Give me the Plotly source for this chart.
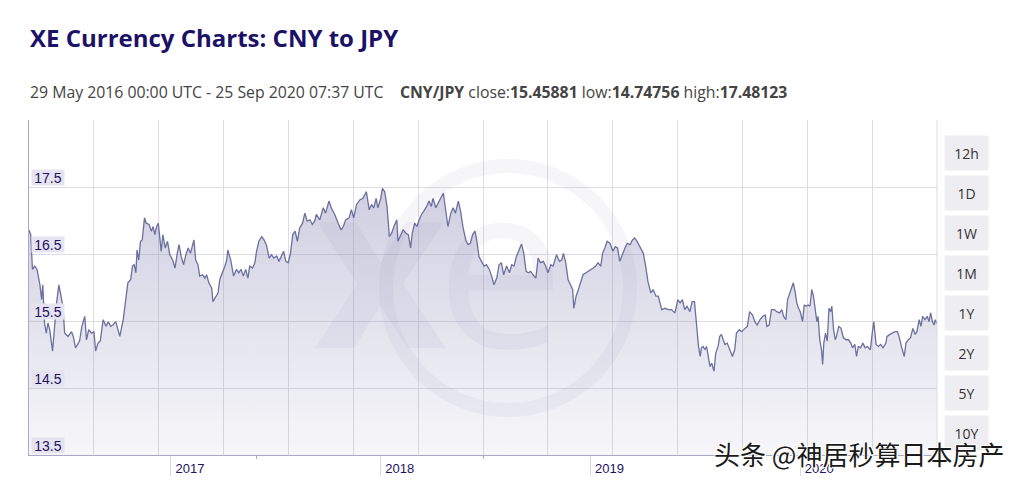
import pandas as pd
import plotly.graph_objects as go

# ---------------- data ----------------
START = "2016-05-29"
END = "2020-09-25"

day_offsets = [
    0, 3, 6, 10, 14, 19, 22, 24, 27, 30, 33, 36, 41, 45, 48, 52, 56, 59, 62, 68,
    74, 77, 81, 85, 88, 92, 97, 100, 104, 109, 113, 116, 120, 124, 129, 134, 138, 142, 146, 151,
    155, 158, 164, 167, 172, 177, 180, 183, 186, 188, 191, 194, 197, 201, 204, 209, 213, 216, 219, 222,
    225, 228, 230, 233, 237, 241, 245, 250, 254, 258, 261, 265, 269, 273, 277, 281, 284, 287, 290, 294,
    297, 302, 306, 309, 313, 318, 320, 325, 329, 332, 337, 341, 344, 346, 351, 353, 356, 361, 365, 369,
    373, 377, 381, 384, 389, 393, 396, 400, 405, 409, 413, 418, 422, 426, 431, 435, 439, 443, 447, 451,
    455, 459, 463, 467, 471, 476, 480, 484, 489, 493, 497, 500, 506,
    512, 516, 522, 526, 532, 538, 543, 547, 551, 557, 561, 565, 570, 576, 581, 587, 592, 596, 600, 604,
    607, 612, 615, 619, 623, 627, 631, 635, 640, 642, 646, 651, 656, 660, 664, 667, 671, 675, 679, 683,
    687, 692, 696, 700, 703, 708, 712, 716, 721, 725, 729, 734, 738, 742, 747, 751, 755, 760, 764, 768,
    772, 776, 779, 783, 788, 792, 796, 801, 805, 809, 814, 818, 822, 826, 831, 836, 840, 844, 848, 853,
    857, 861, 865, 869, 873, 877, 882, 886, 890, 895, 899, 903, 908, 912, 918, 923, 927, 930, 934, 938,
    942, 946, 948, 952, 956, 960, 964, 969, 973, 977, 982, 986, 990, 995, 998, 1002, 1006, 1011, 1016, 1020,
    1024, 1028, 1033, 1037, 1041, 1046, 1050, 1054, 1058, 1063, 1069, 1073, 1077, 1082, 1086, 1091, 1095, 1101, 1107, 1112,
    1118, 1124, 1129, 1133, 1137, 1141, 1145, 1150, 1154, 1158, 1162, 1165, 1168, 1170, 1173, 1176, 1179, 1182, 1185, 1188,
    1192, 1195, 1199, 1202, 1205, 1208, 1211, 1215, 1220, 1224, 1228, 1231, 1236, 1240, 1246, 1250, 1254, 1259, 1263, 1267,
    1272, 1277, 1281, 1284, 1288, 1292, 1297, 1301, 1306, 1310, 1313, 1317, 1320, 1324, 1327, 1330, 1333, 1336, 1339, 1342,
    1346, 1349, 1352, 1356, 1359, 1362, 1365, 1368, 1371, 1373, 1376, 1379, 1381, 1383, 1386, 1389, 1392, 1395, 1397, 1400,
    1403, 1405, 1409, 1413, 1417, 1422, 1426, 1430, 1433, 1437, 1440, 1443, 1447, 1451, 1455, 1459, 1464, 1468, 1470, 1474,
    1478, 1482, 1486, 1491, 1493, 1498, 1503, 1507, 1511, 1514, 1518, 1523, 1526, 1530, 1534, 1538, 1542, 1545, 1549, 1552,
    1555, 1559, 1563, 1566, 1569, 1572, 1575, 1577, 1580,
]

cny_jpy = [
    16.86, 16.79, 16.27, 16.32, 16.27, 16.04, 15.82, 16.04, 15.47, 15.32, 15.47, 15.37, 15.05, 15.47, 15.77, 16.04, 15.87, 15.72, 15.32, 15.27,
    15.34, 15.27, 15.10, 15.15, 15.20, 15.42, 15.57, 15.22, 15.37, 15.32, 15.34, 15.05, 15.17, 15.20, 15.52, 15.42, 15.49, 15.42, 15.44, 15.49,
    15.37, 15.27, 15.52, 15.72, 16.07, 16.12, 16.32, 16.34, 16.22, 16.56, 16.41, 16.69, 16.71, 17.04, 16.96, 16.94, 16.84, 16.91, 16.79, 16.91,
    16.96, 16.71, 16.54, 16.79, 16.59, 16.69, 16.49, 16.41, 16.29, 16.51, 16.64, 16.46, 16.34, 16.49, 16.59, 16.51, 16.61, 16.71, 16.41, 16.34,
    16.17, 16.19, 16.14, 16.19, 16.07, 15.99, 15.79, 15.87, 15.92, 16.12, 16.22, 16.32, 16.41, 16.56, 16.41, 16.32, 16.17, 16.27, 16.22, 16.27,
    16.17, 16.27, 16.14, 16.32, 16.29, 16.37, 16.54, 16.69, 16.76, 16.71, 16.64, 16.44, 16.49, 16.44, 16.47, 16.39, 16.46, 16.54, 16.39, 16.37,
    16.51, 16.79, 16.84, 16.69, 16.89, 16.96, 17.11, 16.99, 17.01, 16.94, 16.99, 17.09, 17.01,
    17.19, 17.11, 17.29, 17.19, 17.09, 16.96, 16.86, 16.91, 17.01, 17.04, 17.16, 17.04, 17.24, 17.31, 17.33, 17.43, 17.16, 17.24, 17.19, 17.33,
    17.19, 17.33, 17.48, 17.43, 17.21, 16.76, 16.81, 16.91, 17.01, 16.69, 16.76, 16.86, 16.81, 16.79, 16.59, 16.81, 16.96, 16.91, 17.01, 17.09,
    17.14, 17.21, 17.29, 17.21, 17.33, 17.19, 17.26, 17.33, 17.41, 17.16, 16.91, 17.11, 17.19, 17.11, 17.29, 17.14, 16.91, 16.71, 16.64, 16.66,
    16.79, 16.84, 16.71, 16.46, 16.37, 16.32, 16.34, 16.27, 16.17, 16.04, 16.14, 16.34, 16.37, 16.19, 16.32, 16.22, 16.34, 16.32, 16.46, 16.56,
    16.65, 16.51, 16.24, 16.22, 16.24, 16.19, 16.14, 16.44, 16.37, 16.39, 16.32, 16.22, 16.34, 16.32, 16.49, 16.39, 16.41, 16.51, 16.37, 16.12,
    16.04, 15.97, 15.69, 15.87, 15.97, 16.09, 16.19, 16.22, 16.24, 16.27, 16.29, 16.32, 16.37, 16.32, 16.51, 16.59, 16.69, 16.66, 16.54, 16.61,
    16.59, 16.39, 16.51, 16.59, 16.66, 16.64, 16.71, 16.74, 16.69, 16.61, 16.51, 16.32, 16.09, 15.92, 15.97, 15.87, 15.87, 15.67, 15.69, 15.67,
    15.67, 15.62, 15.82, 15.77, 15.82, 15.67, 15.72, 15.64, 15.79, 15.79, 15.32, 15.12, 14.97, 15.10, 15.12, 15.07, 15.12, 14.97, 14.82, 14.87,
    14.75, 15.02, 15.12, 15.27, 15.30, 15.22, 15.15, 15.17, 15.07, 14.97, 15.07, 15.32, 15.37, 15.34, 15.39, 15.42, 15.64, 15.59, 15.49, 15.44,
    15.52, 15.57, 15.59, 15.42, 15.44, 15.67, 15.67, 15.64, 15.62, 15.67, 15.57, 15.52, 15.82, 15.92, 16.02, 16.07, 15.94, 15.77, 15.69, 15.64,
    15.49, 15.74, 15.72, 15.74, 15.72, 15.97, 15.87, 15.67, 15.49, 15.57, 15.22, 15.07, 14.85, 15.17, 15.32, 15.20, 15.69, 15.64, 15.72, 15.37,
    15.22, 15.27, 15.42, 15.39, 15.25, 15.22, 15.22, 15.17, 15.10, 15.15, 14.97, 15.12, 15.10, 15.17, 15.10, 15.12, 15.07, 15.37, 15.49, 15.15,
    15.12, 15.15, 15.10, 15.17, 15.27, 15.30, 15.32, 15.34, 15.34, 15.27, 15.12, 14.97, 15.17, 15.22, 15.25, 15.39, 15.30, 15.34, 15.52, 15.42,
    15.57, 15.52, 15.57, 15.49, 15.62, 15.49, 15.44, 15.52, 15.46,
]

y_ticks = [13.5, 14.5, 15.5, 16.5, 17.5]
y_range = [13.5, 18.5]
year_tick_dates = ["2017-01-31", "2018-01-31", "2019-01-31", "2020-01-31"]
year_labels = ["2017", "2018", "2019", "2020"]
minor_tick_dates = ["2017-06-28", "2018-07-28"]
range_buttons = ["12h", "1D", "1W", "1M", "1Y", "2Y", "5Y", "10Y"]
n_vertical_grid = 14

title_text = "XE Currency Charts: CNY to JPY"
pair = "CNY/JPY"
close_val, low_val, high_val = "15.45881", "14.74756", "17.48123"
period_text = "29 May 2016 00:00 UTC - 25 Sep 2020 07:37 UTC"
watermark = "头条 @神居秒算日本房产"

# ---------------- figure ----------------
dates = pd.Timestamp(START) + pd.to_timedelta(day_offsets, unit="D")
total_days = (pd.Timestamp(END) - pd.Timestamp(START)).days
grid_step_ms = total_days / n_vertical_grid * 86400000

# the page body adds an 8 px margin around the figure
OFF = 8
W, H = 1002, 472
ML, MR, MT, MB = 21, 73, 112, 25
PW, PH = W - ML - MR, H - MT - MB


def px(xs):
    """screen x (page pixels) -> paper x"""
    return (xs - OFF - ML) / PW


def py(ys):
    """screen y (page pixels) -> paper y"""
    return (H - MB - (ys - OFF)) / PH


NAVY = "#1e1262"
AXIS_PURPLE = "#aaa7c9"
GRID = "#dcdce2"
SANS = "Arial, Liberation Sans, sans-serif"
OPEN = "Open Sans, sans-serif"

fig = go.Figure()
fig.add_trace(go.Scatter(
    x=dates, y=cny_jpy, mode="lines",
    line=dict(color="#6c709e", width=1.3),
    fill="tozeroy",
    fillgradient=dict(
        type="vertical", start=y_range[0], stop=y_ticks[-1],
        colorscale=[[0, "rgba(150,150,190,0.08)"], [1, "rgba(150,150,190,0.46)"]],
    ),
    hoverinfo="skip", showlegend=False,
))
# invisible carriers so the overlaying tick axes are drawn
for ax in ("x2", "x3"):
    fig.add_trace(go.Scatter(
        x=dates, y=cny_jpy, xaxis=ax, yaxis="y", mode="lines",
        line=dict(color="rgba(0,0,0,0)", width=0), hoverinfo="skip", showlegend=False,
    ))

annotations = []
# title + subtitle
annotations.append(dict(
    text=f"<b>{title_text}</b>", xref="paper", yref="paper", x=px(28), y=py(37),
    xanchor="left", yanchor="middle", showarrow=False,
    font=dict(family=OPEN, size=24, color="#1b1167"),
))
sub = (f"{period_text}\u00a0\u00a0\u00a0\u00a0<b>{pair}</b> close:<b>{close_val}</b> "
       f"low:<b>{low_val}</b> high:<b>{high_val}</b>")
annotations.append(dict(
    text=sub, xref="paper", yref="paper", x=px(28), y=py(92),
    xanchor="left", yanchor="middle", showarrow=False,
    font=dict(family=OPEN, size=15.8, color="#444444"),
))
# y tick labels in boxes
for v in y_ticks:
    annotations.append(dict(
        text=f"{v:.1f}", xref="paper", yref="y", x=0, y=v, xshift=2, yshift=1,
        xanchor="left", yanchor="bottom", showarrow=False,
        width=31, height=14, borderpad=0.5, bgcolor="#e5e3f0", align="center",
        font=dict(family=SANS, size=14, color=NAVY),
    ))
# range buttons
for i, b in enumerate(range_buttons):
    annotations.append(dict(
        text=b, xref="paper", yref="paper", x=px(966.5), y=py(153 + 40 * i),
        xanchor="center", yanchor="middle", showarrow=False,
        width=43, height=34, borderpad=0, bgcolor="#eeedf2", align="center", valign="middle",
        font=dict(family=OPEN, size=14, color="#333333"),
    ))
# faint XE logo
LOGO = "rgba(120,120,165,0.065)"
annotations.append(dict(
    text="<b>x</b>", xref="paper", yref="paper", x=px(380), y=py(287), yshift=29,
    xanchor="center", yanchor="middle", showarrow=False,
    font=dict(family=OPEN, size=230, color=LOGO),
))
annotations.append(dict(
    text="e", xref="paper", yref="paper", x=px(500), y=py(287), yshift=29,
    xanchor="center", yanchor="middle", showarrow=False,
    font=dict(family=OPEN, size=230, color=LOGO),
))
# watermark
annotations.append(dict(
    text=watermark, xref="paper", yref="paper", x=px(859), y=py(453),
    xanchor="center", yanchor="middle", showarrow=False,
    font=dict(family="Noto Sans CJK SC", size=26, color="#1a1a1a",
              shadow="-1px -1px 0 #fff, 1px -1px 0 #fff, -1px 1px 0 #fff, 1px 1px 0 #fff"),
))

shapes = [
    dict(type="circle", xref="paper", yref="paper", layer="above",
         x0=px(508 - 122), x1=px(508 + 122), y0=py(288 + 122), y1=py(288 - 122),
         line=dict(color=LOGO, width=14)),
    dict(type="line", xref="paper", yref="paper", x0=1, x1=1, y0=0, y1=1,
         line=dict(color=GRID, width=1)),
]

fig.update_layout(
    width=W, height=H,
    margin=dict(l=ML, r=MR, t=MT, b=MB, autoexpand=False),
    paper_bgcolor="white", plot_bgcolor="white",
    showlegend=False,
    xaxis=dict(
        type="date", range=[START, END], showgrid=True, gridcolor=GRID, gridwidth=1,
        tick0=START, dtick=grid_step_ms, showticklabels=False, ticks="",
        showline=True, linecolor=AXIS_PURPLE, linewidth=1, zeroline=False,
    ),
    xaxis2=dict(
        type="date", range=[START, END], overlaying="x", anchor="y", side="bottom",
        tickmode="array", tickvals=year_tick_dates, ticktext=year_labels,
        ticks="outside", ticklen=20, tickcolor="#d9d9e2", tickwidth=1,
        ticklabelshift=19, ticklabelstandoff=-19,
        showgrid=False, showline=False, zeroline=False,
        tickfont=dict(family=SANS, size=13, color=NAVY),
    ),
    xaxis3=dict(
        type="date", range=[START, END], overlaying="x", anchor="y", side="bottom",
        tickmode="array", tickvals=minor_tick_dates, ticks="outside", ticklen=3,
        tickcolor=AXIS_PURPLE, showticklabels=False, showgrid=False, showline=False,
        zeroline=False,
    ),
    yaxis=dict(
        range=y_range, tickmode="array", tickvals=y_ticks + [y_range[1]],
        showticklabels=False, ticks="", showgrid=True, gridcolor=GRID,
        showline=True, linecolor=AXIS_PURPLE, linewidth=1, zeroline=False,
    ),
    annotations=annotations,
    shapes=shapes,
)

fig.write_html("out.html")
